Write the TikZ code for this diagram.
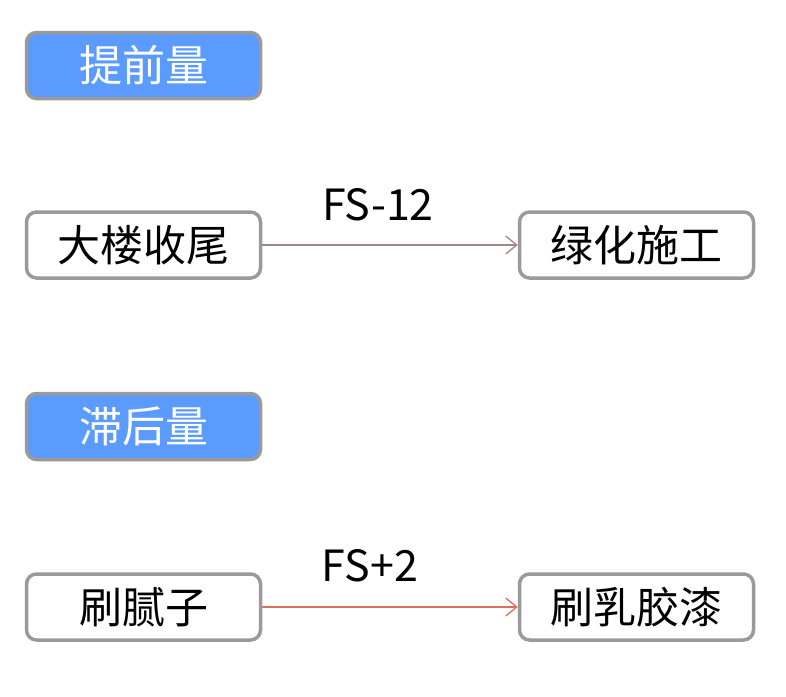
\documentclass[tikz,border=0pt]{standalone}
\usepackage{fontspec}
\setmainfont{Noto Sans CJK SC}
\usetikzlibrary{arrows.meta}
\definecolor{boxgray}{HTML}{9A9A9A}
\definecolor{headblue}{HTML}{5B9BFF}
\definecolor{arrowA}{HTML}{A08888}
\definecolor{arrowB}{HTML}{D8705E}
\tikzset{
  box/.style={draw=boxgray, line width=3.5pt, rounded corners=10pt, minimum width=234pt, minimum height=66pt, inner sep=0pt, font=\fontsize{43}{50}\selectfont},
  headbox/.style={box, fill=headblue, text=white},
  taskbox/.style={box, fill=white, text=black},
  link/.style={line width=1.3pt, -{Straight Barb[length=11pt, width=18pt, line width=1.3pt]}},
  linklabel/.style={font=\fontsize{43}{50}\selectfont, text=black}
}
\begin{document}
\begin{tikzpicture}[x=1pt,y=-1pt]
\useasboundingbox (0,0) rectangle (786,696);
\node[headbox] (h1) at (143.5,65.5) {提前量};
\node[taskbox] (a1) at (143.5,245) {大楼收尾};
\node[taskbox] (b1) at (636.5,245) {绿化施工};
\node[headbox] (h2) at (143.5,426.5) {滞后量};
\node[taskbox] (a2) at (143.5,607) {刷腻子};
\node[taskbox] (b2) at (636.5,607) {刷乳胶漆};
\draw[link, draw=arrowA] (a1.east) -- (b1.west);
\draw[link, draw=arrowB] (a2.east) -- (b2.west);
\node[linklabel] (l1) at (378,205) {FS-12};
\node[linklabel] (l2) at (370,566) {FS+2};
\end{tikzpicture}
\end{document}
